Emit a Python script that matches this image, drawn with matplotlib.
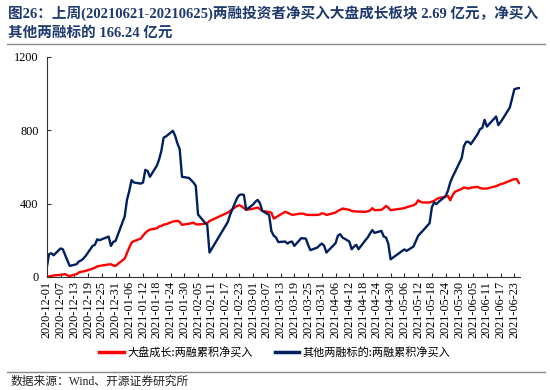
import matplotlib
matplotlib.use('Agg')
import matplotlib.pyplot as plt
from matplotlib.lines import Line2D
import pandas as pd

plt.rcParams['font.family'] = ['Liberation Serif', 'Noto Sans CJK SC']

# trading days, 2020-12-01 .. 2021-06-25 (China holidays removed)
holidays = ['2021-01-01', '2021-02-11', '2021-02-12', '2021-02-15', '2021-02-16',
            '2021-02-17', '2021-04-05', '2021-05-03', '2021-05-04', '2021-05-05',
            '2021-06-14']
dates = pd.bdate_range('2020-12-01', '2021-06-25')
dates = dates[~dates.isin(pd.to_datetime(holidays))]

# 大盘成长 cumulative net buy (亿元)
big_growth = [
    # Dec
    0, 3, 5, 8, 11, 13, 15, 8, 5, 15, 24, 28, 30, 33, 45, 50, 57, 60, 62, 68, 69, 62, 60,
    # Jan
    100, 130, 160, 187, 195, 209, 225, 240, 251, 258, 265, 275, 278, 285, 287,
    302, 304, 306, 300, 284,
    # Feb
    290, 293, 296, 287, 286, 290, 293, 305, 351, 360, 387, 391, 385, 375, 366,
    # Mar
    372, 375, 378, 370, 360, 354, 350, 318, 325, 333, 355, 350, 345, 338, 340,
    346, 344, 340, 338, 338, 338, 340, 347,
    # Apr
    345, 338, 351, 360, 366, 373, 366, 360, 358, 357, 356, 355, 358, 362, 375, 364,
    366, 375, 387, 378, 364,
    # May
    375, 380, 391, 398, 418, 410, 406, 406, 410, 415, 424, 430, 438, 442, 418, 445, 464, 480,
    # Jun
    488, 485, 482, 487, 491, 485, 482, 482, 482, 495, 500, 506, 509, 524, 530, 533, 533, 512,
]

# 其他两融标的 cumulative net buy (亿元)
others = [
    # Dec
    51, 124, 129, 118, 155, 151, 120, 90, 60, 69, 84, 90, 100, 115, 169, 175, 205, 200, 205,
    220, 169, 191, 196,
    # Jan
    330, 420, 469, 528, 515, 509, 515, 584, 578, 546, 606, 640, 688, 760, 766,
    797, 770, 728, 697, 546,
    # Feb
    540, 528, 515, 497, 340, 296, 284, 133, 300, 340, 430, 447, 450, 447, 366,
    # Mar
    395, 410, 420, 402, 360, 338, 250, 225, 215, 190, 193, 182, 190, 193, 169,
    211, 210, 209, 175, 146, 160, 172, 182,
    # Apr
    170, 133, 184, 225, 233, 215, 193, 151, 165, 175, 151, 200, 215, 236, 255, 240,
    251, 220, 215, 180, 96,
    # May
    150, 142, 166, 195, 224, 238, 251, 293, 380, 406, 397, 410, 440, 470, 515, 545, 570, 648,
    # Jun
    715, 737, 737, 724, 780, 806, 813, 857, 820, 875, 828, 845, 864, 924, 975, 1024, 1028, 1030,
]

title_1 = '图26：上周(20210621-20210625)两融投资者净买入大盘成长板块 2.69 亿元，净买入'
title_2 = '其他两融标的 166.24 亿元'
source = '数据来源：Wind、开源证券研究所'
labels = ['大盘成长:两融累积净买入', '其他两融标的:两融累积净买入']

cjk = ['Noto Sans CJK SC', 'DejaVu Sans']
mixed = ['Liberation Serif', 'Noto Sans CJK SC']
navy = '#002060'

fig = plt.figure(figsize=(5.5, 3.9), dpi=100)
ax = fig.add_axes([0.085, 0.29, 0.86, 0.564])

ax.plot(dates, big_growth, color='#FF0000', lw=1.7)
ax.plot(dates, others, color=navy, lw=1.7)

ax.set_ylim(0, 1200)
ax.set_yticks([0, 400, 800, 1200])
ax.set_xlim(pd.Timestamp('2020-12-01'), pd.Timestamp('2021-06-25 08:00'))
ticks = pd.date_range('2020-12-01', '2021-06-23', freq='6D')
ax.set_xticks(ticks)
ax.set_xticklabels([d.strftime('%Y-%m-%d') for d in ticks], rotation=90,
                   fontsize=8.8)
for t in ax.get_yticklabels():
    t.set_fontsize(8.8)
ax.tick_params(axis='both', direction='in', length=3, width=0.8, color='#333333')
ax.tick_params(axis='y', pad=6)
ax.tick_params(axis='x', pad=3)
for s in ['top', 'right']:
    ax.spines[s].set_visible(False)
for s in ['left', 'bottom']:
    ax.spines[s].set_color('#333333')
    ax.spines[s].set_linewidth(0.8)

handles = [Line2D([], [], color='#FF0000', lw=2.5),
           Line2D([], [], color=navy, lw=2.5)]
fig.legend(handles, labels, loc='center', bbox_to_anchor=(0.5, 0.097), ncol=2,
           frameon=False, prop={'family': cjk, 'size': 8}, handlelength=2.2,
           handletextpad=0.3, columnspacing=2.0)

tcolor = '#1F3A6E'
fig.text(0.015, 0.965, title_1, color=tcolor, fontsize=10.5, fontweight='bold',
         family=mixed, va='center', ha='left')
fig.text(0.015, 0.915, title_2, color=tcolor, fontsize=10.5, fontweight='bold',
         family=mixed, va='center', ha='left')
fig.add_artist(Line2D([0.012, 0.99], [0.886, 0.886], color='#888888', lw=1.0))
fig.add_artist(Line2D([0.012, 0.99], [0.046, 0.046], color='#888888', lw=1.0))
fig.text(0.02, 0.02, source, fontsize=8.5, family=mixed, va='center', ha='left',
         color='#222222')

fig.savefig('out.png', dpi=100)
